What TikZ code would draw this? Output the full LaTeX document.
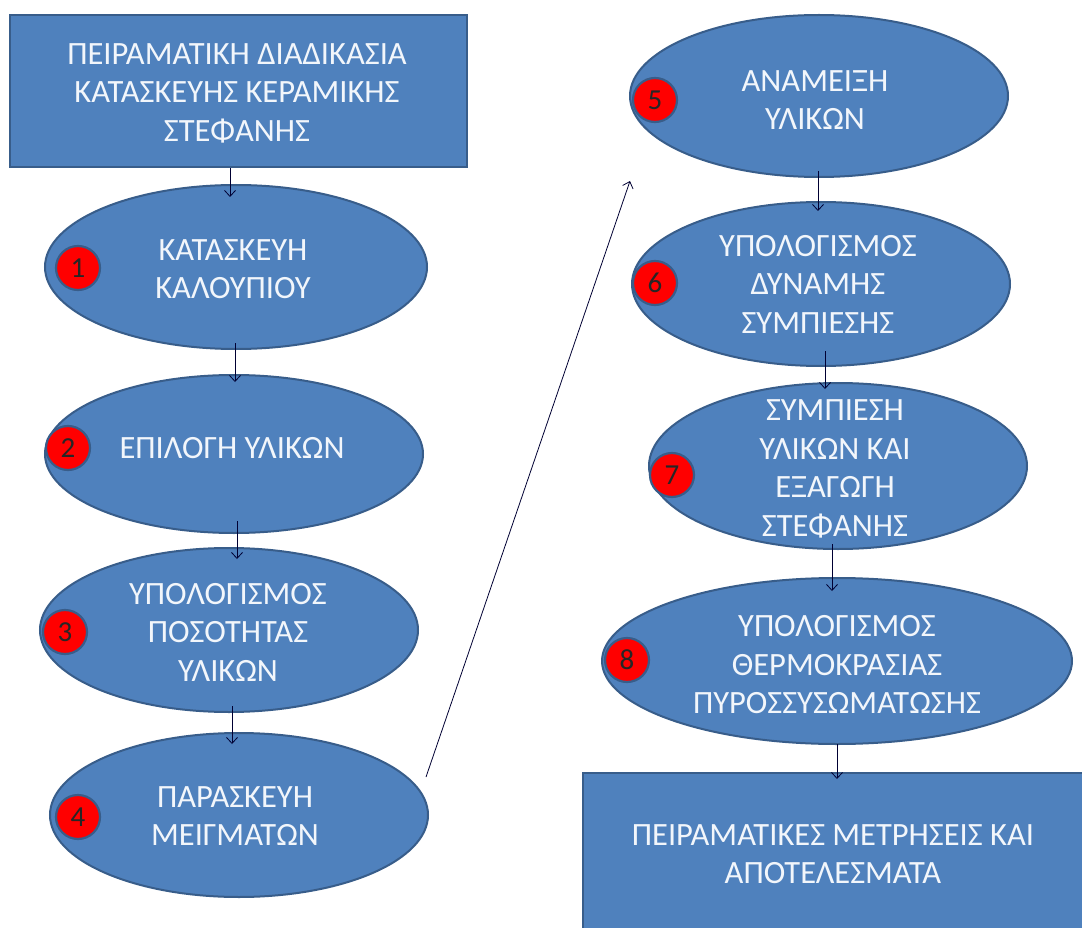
\documentclass[tikz,border=0pt]{standalone}
\usepackage{fontspec}
\setmainfont{Carlito}
\usetikzlibrary{arrows.meta,shapes.geometric}
\definecolor{fillblue}{HTML}{4F81BD}
\definecolor{edgeblue}{HTML}{385D8A}
\definecolor{numred}{HTML}{FF0000}
\definecolor{txtwhite}{HTML}{F2F6FB}
\tikzset{
  blk/.style={fill=fillblue, draw=edgeblue, line width=2pt},
  oval/.style={blk, ellipse, inner sep=0pt},
  rect/.style={blk, rectangle, inner sep=0pt},
  lbl/.style={text=txtwhite, font=\fontsize{32.5}{38.5}\selectfont, align=center, inner sep=0pt},
  badge/.style={circle, fill=numred, draw=edgeblue, line width=2.2pt, minimum size=44pt, inner sep=0pt, font=\fontsize{29}{32}\selectfont, text=black!85},
  arr/.style={-{Straight Barb[length=6pt,width=11pt]}, line width=0.8pt, draw=black!80!blue},
}
\begin{document}
\begin{tikzpicture}[x=1pt,y=-1pt]
\clip (0,0) rectangle (1082,928);
\fill[white] (0,0) rectangle (1082,928);

% boxes and ellipses
\node[rect, minimum width=457pt, minimum height=152pt] (top) at (238.5,91) {};
\node[oval, minimum width=382pt, minimum height=164pt] (e1) at (236,267) {};
\node[oval, minimum width=378pt, minimum height=158pt] (e2) at (234,454) {};
\node[oval, minimum width=378pt, minimum height=164pt] (e3) at (229,630) {};
\node[oval, minimum width=378pt, minimum height=164pt] (e4) at (239,815) {};
\node[oval, minimum width=378pt, minimum height=162pt] (e5) at (819,96) {};
\node[oval, minimum width=378pt, minimum height=164pt] (e6) at (821,284) {};
\node[oval, minimum width=378pt, minimum height=166pt] (e7) at (838,466) {};
\node[oval, minimum width=470pt, minimum height=166pt] (e8) at (837,661) {};
\node[rect, minimum width=502pt, minimum height=162pt] (bot) at (834,854) {};

% texts
\node[lbl] (ttop) at (237,93) {ΠΕΙΡΑΜΑΤΙΚΉ ΔΙΑΔΙΚΑΣΙΑ\\ΚΑΤΑΣΚΕΥΗΣ ΚΕΡΑΜΙΚΗΣ\\ΣΤΕΦΑΝΗΣ};
\node[lbl] (t1) at (233,269) {ΚΑΤΑΣΚΕΥΗ\\ΚΑΛΟΥΠΙΟΥ};
\node[lbl] (t2) at (232,448) {ΕΠΙΛΟΓΗ ΥΛΙΚΩΝ};
\node[lbl] (t3) at (228,632) {ΥΠΟΛΟΓΙΣΜΟΣ\\ΠΟΣΟΤΗΤΑΣ\\ΥΛΙΚΩΝ};
\node[lbl] (t4) at (235,816) {ΠΑΡΑΣΚΕΥΗ\\ΜΕΙΓΜΑΤΩΝ};
\node[lbl] (t5) at (815,100) {ΑΝΑΜΕΙΞΗ\\ΥΛΙΚΩΝ};
\node[lbl] (t6) at (818,284) {ΥΠΟΛΟΓΙΣΜΟΣ\\ΔΥΝΑΜΗΣ\\ΣΥΜΠΙΕΣΗΣ};
\node[lbl] (t7) at (835,469) {ΣΥΜΠΙΕΣΗ\\ΥΛΙΚΩΝ ΚΑΙ\\ΕΞΑΓΩΓΗ\\ΣΤΕΦΑΝΗΣ};
\node[lbl] (t8) at (837,665) {ΥΠΟΛΟΓΙΣΜΟΣ\\ΘΕΡΜΟΚΡΑΣΙΑΣ\\ΠΥΡΟΣΣΥΣΩΜΑΤΩΣΗΣ};
\node[lbl] (tbot) at (833,854) {ΠΕΙΡΑΜΑΤΙΚΕΣ ΜΕΤΡΗΣΕΙΣ ΚΑΙ\\ΑΠΟΤΕΛΕΣΜΑΤΑ};

% number badges
\node[badge] (n1) at (78,268) {1};
\node[badge] (n2) at (68,448) {2};
\node[badge] (n3) at (65,632) {3};
\node[badge] (n4) at (78,817) {4};
\node[badge] (n5) at (655,100) {5};
\node[badge] (n6) at (655,283) {6};
\node[badge] (n7) at (672,475) {7};
\node[badge] (n8) at (627,660) {8};

% connectors
\draw[arr] ([xshift=-8.5pt]top.south) -- ([xshift=-6pt,yshift=-13pt]e1.north);
\draw[arr] ([xshift=-1pt,yshift=7pt]e1.south) -- ([xshift=1pt,yshift=-8pt]e2.north);
\draw[arr] ([xshift=3pt,yshift=13pt]e2.south) -- ([xshift=8pt,yshift=-12pt]e3.north);
\draw[arr] ([xshift=3pt,yshift=7pt]e3.south) -- ([xshift=-7pt,yshift=-12pt]e4.north);
\draw[arr] ([xshift=-3pt,yshift=38pt]e4.east) -- ([xshift=1pt,yshift=-85pt]e5.west);
\draw[arr] ([xshift=-1pt,yshift=7pt]e5.south) -- ([xshift=-3pt,yshift=-10pt]e6.north);
\draw[arr] ([xshift=4pt,yshift=16pt]e6.south) -- ([xshift=-13pt,yshift=-7pt]e7.north);
\draw[arr] ([xshift=-6pt,yshift=6pt]e7.south) -- ([xshift=-5pt,yshift=-14pt]e8.north);
\draw[arr] ([yshift=1pt]e8.south) -- ([xshift=3pt,yshift=-7pt]bot.north);
\end{tikzpicture}
\end{document}
